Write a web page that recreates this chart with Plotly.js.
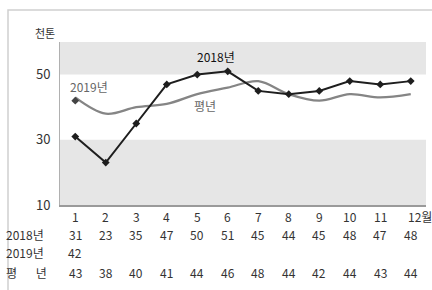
<!DOCTYPE html>
<html><head><meta charset="utf-8">
<script src="https://cdn.plot.ly/plotly-3.0.1.min.js"></script>
<style>html,body{margin:0;padding:0;background:#fff;}#c{width:432px;height:290px;}</style>
</head><body><div id="c"></div>
<script>
const months = [1,2,3,4,5,6,7,8,9,10,11,12];
const monthLabels = ['1','2','3','4','5','6','7','8','9','10','11','12월'];
const y2018 = [31,23,35,47,50,51,45,44,45,48,47,48];
const y2019 = [42];
const yNormal = [43,38,40,41,44,46,48,44,42,44,43,44];
const rowLabels = ['2018년','2019년','평\u00a0\u00a0\u00a0\u00a0\u00a0\u00a0\u00a0년'];
const yTicks = [10,30,50];

const F = "'Noto Sans CJK KR', 'Noto Sans', sans-serif";
const txt = '#333';

const traces = [
  {x: months, y: yNormal, mode: 'lines', line: {color: '#858585', width: 2.3, shape: 'spline', smoothing: 1}, hoverinfo: 'skip'},
  {x: months, y: y2018, mode: 'lines+markers', line: {color: '#1e1e1e', width: 2}, marker: {symbol: 'diamond', size: 6, color: '#1e1e1e'}},
  {x: months.slice(0, y2019.length), y: y2019, mode: 'markers', marker: {symbol: 'diamond', size: 6, color: '#444'}}
];

const px = p => (p - 60) / 366;
const py = p => (205 - p) / 163;

const ann = [];
const rowsY = [py(234), py(252), py(272)];
const rowsData = [y2018, y2019, yNormal];
monthLabels.forEach((m, i) => ann.push({x: months[i], xref: 'x', y: py(216), yref: 'paper', text: m, showarrow: false, xanchor: i === 11 ? 'left' : 'center', xshift: i === 11 ? -5 : 0, yanchor: 'middle', font: {family: F, size: 12, color: txt}}));
rowsData.forEach((arr, r) => {
  ann.push({x: px(4), xref: 'paper', y: rowsY[r], yref: 'paper', text: rowLabels[r], showarrow: false, xanchor: 'left', yanchor: 'middle', font: {family: F, size: 12, color: txt}});
  arr.forEach((v, i) => ann.push({x: months[i], xref: 'x', y: rowsY[r], yref: 'paper', text: String(v), showarrow: false, xanchor: 'center', yanchor: 'middle', font: {family: F, size: 12, color: txt}}));
});
ann.push({x: px(45), xref: 'paper', y: py(33), yref: 'paper', text: '천톤', showarrow: false, xanchor: 'center', yanchor: 'middle', font: {family: F, size: 11, color: txt}});
ann.push({x: 5.6, xref: 'x', y: 55.5, yref: 'y', text: '2018년', showarrow: false, xanchor: 'center', yanchor: 'middle', font: {family: F, size: 12, color: '#111'}});
ann.push({x: 1.45, xref: 'x', y: 46.3, yref: 'y', text: '2019년', showarrow: false, xanchor: 'center', yanchor: 'middle', font: {family: F, size: 12, color: '#666'}});
ann.push({x: 5.25, xref: 'x', y: 40.6, yref: 'y', text: '평년', showarrow: false, xanchor: 'center', yanchor: 'middle', font: {family: F, size: 12, color: '#666'}});

const layout = {
  width: 432, height: 290,
  margin: {l: 60, r: 6, t: 42, b: 85},
  paper_bgcolor: '#fff', plot_bgcolor: '#fff',
  showlegend: false,
  xaxis: {range: [0.5, 12.5], showticklabels: false, showgrid: false, zeroline: false, showline: true, linecolor: '#9a9a9a', linewidth: 2, ticks: '', fixedrange: true},
  yaxis: {range: [10, 60], tickvals: yTicks, ticktext: yTicks.map(String), showgrid: false, zeroline: false, showline: true, linecolor: '#b0b0b0', linewidth: 1, ticks: '', ticklabelstandoff: 6, tickfont: {family: F, size: 13, color: txt}, fixedrange: true},
  shapes: [
    {type: 'rect', xref: 'paper', yref: 'y', x0: 0, x1: 1, y0: 50, y1: 60, fillcolor: '#e6e6e6', line: {width: 0}, layer: 'below'},
    {type: 'rect', xref: 'paper', yref: 'y', x0: 0, x1: 1, y0: 10, y1: 30, fillcolor: '#e6e6e6', line: {width: 0}, layer: 'below'},
    {type: 'rect', xref: 'paper', yref: 'paper', x0: px(8), x1: px(440), y0: py(10), y1: py(300), fillcolor: 'rgba(0,0,0,0)', line: {color: '#d0d0d0', width: 1.5}, layer: 'below'}
  ],
  annotations: ann
};
Plotly.newPlot('c', traces, layout, {displayModeBar: false, staticPlot: true});
</script></body></html>
